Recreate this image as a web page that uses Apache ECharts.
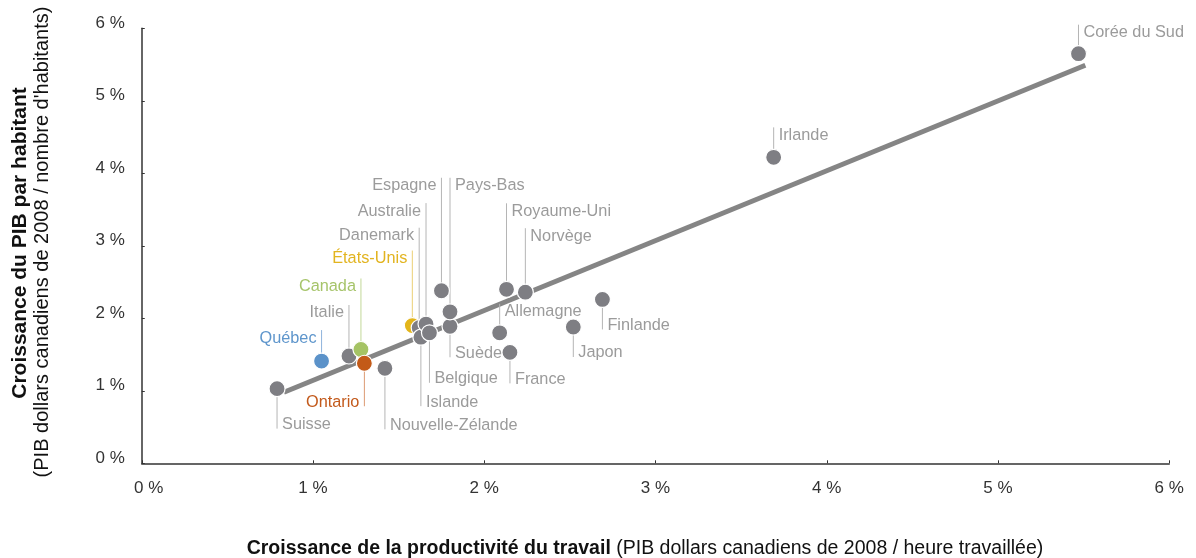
<!DOCTYPE html>
<html>
<head>
<meta charset="utf-8">
<script src="https://cdn.jsdelivr.net/npm/echarts@6/dist/echarts.min.js"></script>
<style>
  html, body { margin: 0; padding: 0; background: #fff; }
  #chart { width: 1196px; height: 558px; }
</style>
</head>
<body>
<div id="chart"></div>
<script>
// values (% per year)
const countries = ['Suisse', 'Québec', 'Italie', 'Canada', 'Ontario', 'Nouvelle-Zélande',
  'États-Unis', 'Danemark', 'Islande', 'Australie', 'Belgique', 'Espagne', 'Suède', 'Pays-Bas',
  'Allemagne', 'Royaume-Uni', 'France', 'Norvège', 'Japon', 'Finlande', 'Irlande', 'Corée du Sud'];
const productivity = [0.79, 1.05, 1.21, 1.28, 1.30, 1.42,
  1.58, 1.62, 1.63, 1.66, 1.68, 1.75, 1.80, 1.80,
  2.09, 2.13, 2.15, 2.24, 2.52, 2.69, 3.69, 5.47];
const gdpPerCapita = [1.03, 1.41, 1.48, 1.57, 1.38, 1.31,
  1.90, 1.87, 1.74, 1.92, 1.80, 2.38, 1.89, 2.09,
  1.80, 2.40, 1.53, 2.36, 1.88, 2.26, 4.22, 5.65];
const trendLine = [[0.83, 0.98], [5.51, 5.49]];
const xTicks = [0, 1, 2, 3, 4, 5, 6];
const yTicks = [0, 1, 2, 3, 4, 5, 6];

// styling of points and labels
const pointColor = '#7e7e83';
const labelColor = '#9b9b9b';
const leaderColor = '#b5b5b5';
const highlight = {
  'Québec':     { point: '#5b92c9', text: '#5f96cc', leader: '#8fb4dc' },
  'Canada':     { point: '#a5c364', text: '#a6c46a', leader: '#c2d898' },
  'États-Unis': { point: '#e3b51a', text: '#e2b420', leader: '#ecd075' },
  'Ontario':    { point: '#c35a18', text: '#c35a1c', leader: '#dc9a72' }
};
// [direction of leader, side of text, leader length in px]
const labelPlace = {
  'Suisse': ['down', 'right', 40], 'Québec': ['up', 'left', 31], 'Italie': ['up', 'left', 51],
  'Canada': ['up', 'left', 71], 'Ontario': ['down', 'left', 43], 'Nouvelle-Zélande': ['down', 'right', 61],
  'États-Unis': ['up', 'left', 75], 'Danemark': ['up', 'left', 100], 'Islande': ['down', 'right', 69],
  'Australie': ['up', 'left', 121], 'Belgique': ['down', 'right', 50], 'Espagne': ['up', 'left', 113],
  'Suède': ['down', 'right', 31], 'Pays-Bas': ['up', 'right', 134], 'Allemagne': ['up', 'right', 29],
  'Royaume-Uni': ['up', 'right', 86], 'France': ['down', 'right', 31], 'Norvège': ['up', 'right', 64],
  'Japon': ['down', 'right', 30], 'Finlande': ['down', 'right', 30], 'Irlande': ['up', 'right', 30],
  'Corée du Sud': ['up', 'right', 29]
};

const FONT = "'Liberation Sans', Arial, sans-serif";
const points = countries.map((name, i) => [productivity[i], gdpPerCapita[i], name]);

const chart = echarts.init(document.getElementById('chart'));
const option = {
  animation: false,
  textStyle: { fontFamily: FONT },
  grid: { left: 141.75, right: 26.75, top: 28.3, bottom: 94.7 },
  xAxis: {
    type: 'value', min: xTicks[0], max: xTicks[xTicks.length - 1], interval: 1,
    splitLine: { show: false },
    axisLine: { lineStyle: { color: '#333', width: 1.5 } },
    axisTick: { inside: true, length: 3, lineStyle: { color: '#333' } },
    axisLabel: {
      color: '#333', fontSize: 17, margin: 17,
      formatter: v => v === 0 ? '{z|0 %}' : v + ' %',
      rich: { z: { fontSize: 17, color: '#333', padding: [0, 0, 0, 14] } }
    }
  },
  yAxis: {
    type: 'value', min: yTicks[0], max: yTicks[yTicks.length - 1], interval: 1,
    splitLine: { show: false },
    axisLine: { show: true, lineStyle: { color: '#333', width: 1.5 } },
    axisTick: { show: true, inside: true, length: 3, lineStyle: { color: '#333' } },
    axisLabel: { color: '#333', fontSize: 17, margin: 17, verticalAlign: 'bottom', lineHeight: 10,
      formatter: v => v + ' %' }
  },
  graphic: [
    {
      type: 'text', x: 20, y: 243, rotation: Math.PI / 2,
      style: { text: 'Croissance du PIB par habitant', fill: '#111', font: 'bold 21px ' + FONT,
        textAlign: 'center', textVerticalAlign: 'middle' }
    },
    {
      type: 'text', x: 42, y: 242, rotation: Math.PI / 2,
      style: { text: "(PIB dollars canadiens de 2008 / nombre d'habitants)", fill: '#111', font: '20px ' + FONT,
        textAlign: 'center', textVerticalAlign: 'middle' }
    },
    {
      type: 'text', x: 645, y: 549,
      style: {
        text: '{b|Croissance de la productivité du travail} (PIB dollars canadiens de 2008 / heure travaillée)',
        fill: '#111', font: '19.5px ' + FONT, textAlign: 'center', textVerticalAlign: 'middle',
        rich: { b: { fontWeight: 'bold', fontSize: 19.5, fontFamily: FONT, fill: '#111' } }
      }
    }
  ],
  series: [
    {
      type: 'line', data: trendLine, symbol: 'none', z: 1,
      lineStyle: { color: '#858585', width: 5, cap: 'butt' }, silent: true
    },
    {
      type: 'custom', z: 2, data: points, silent: true,
      renderItem: (params, api) => {
        const name = countries[params.dataIndex];
        const p = api.coord([api.value(0), api.value(1)]);
        const place = labelPlace[name];
        const up = place[0] === 'up';
        const right = place[1] === 'right';
        const yEnd = p[1] + (up ? -place[2] : place[2]);
        const hl = highlight[name];
        return {
          type: 'group',
          children: [
            { type: 'line', shape: { x1: p[0], y1: p[1], x2: p[0], y2: yEnd },
              style: { stroke: hl ? hl.leader : leaderColor, lineWidth: 1 } },
            { type: 'text', x: p[0] + (right ? 5 : -5), y: yEnd + (up ? 8 : -4),
              style: { text: name, fill: hl ? hl.text : labelColor, fontSize: 16.3, fontFamily: FONT,
                textAlign: right ? 'left' : 'right', textVerticalAlign: 'middle' } }
          ]
        };
      }
    },
    {
      type: 'scatter', z: 3, symbolSize: 16,
      data: points.map(d => ({
        value: d,
        itemStyle: { color: highlight[d[2]] ? highlight[d[2]].point : pointColor }
      })),
      itemStyle: { borderColor: '#fff', borderWidth: 1.2, opacity: 1 }
    }
  ]
};
chart.setOption(option);
</script>
</body>
</html>
